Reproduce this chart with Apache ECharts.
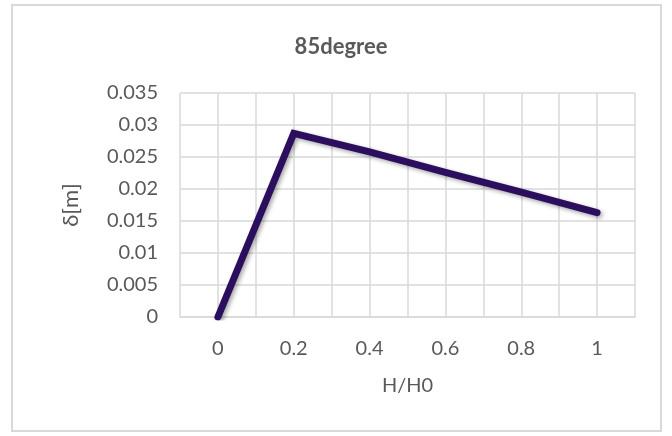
<!DOCTYPE html>
<html>
<head>
<meta charset="utf-8">
<script src="https://cdn.jsdelivr.net/npm/echarts@6/dist/echarts.min.js"></script>
<style>
  html, body { margin: 0; padding: 0; background: #fff; }
  #chart { width: 672px; height: 436px; }
</style>
</head>
<body>
<div id="chart"></div>
<script>
// Relative height H/H0 and the measured displacement δ in metres
const xValues = [0, 0.2, 0.4, 0.6, 0.8, 1];
const deltaValues = [0, 0.0287, 0.0258, 0.0226, 0.0195, 0.0163];

const chartTitle = '85degree';
const xName = 'H/H0';
const yName = 'δ[m]';

const seriesData = xValues.map((x, i) => [x, deltaValues[i]]);

const textColor = '#595959';
const gridColor = '#d9d9d9';
const fontFamily = 'Lato, "Open Sans", sans-serif';

const chart = echarts.init(document.getElementById('chart'), null, { renderer: 'canvas' });
chart.setOption({
  animation: false,
  backgroundColor: '#ffffff',
  graphic: [{
    type: 'rect',
    shape: { x: 12, y: 5, width: 649, height: 426 },
    style: { fill: 'none', stroke: gridColor, lineWidth: 2 },
    silent: true
  }],
  title: {
    text: chartTitle,
    left: 336,
    top: 31,
    textAlign: 'center',
    textStyle: { fontFamily, fontSize: 22, fontWeight: 'bold', color: textColor }
  },
  grid: { left: 180, right: 37, top: 93, bottom: 119 },
  xAxis: {
    type: 'value',
    min: -0.1,
    max: 1.1,
    interval: 0.1,
    name: xName,
    nameLocation: 'middle',
    nameGap: 59,
    nameTextStyle: { fontFamily, fontSize: 20, color: textColor },
    axisLine: { show: true, onZero: false, lineStyle: { color: gridColor, width: 1.5 } },
    axisTick: { show: false },
    splitLine: { show: true, lineStyle: { color: gridColor, width: 1.5 } },
    axisLabel: {
      margin: 22,
      fontFamily, fontSize: 20, color: textColor,
      showMinLabel: true, showMaxLabel: true,
      formatter: v => {
        const k = Math.round(v * 10);
        return (k >= 0 && k <= 10 && k % 2 === 0) ? String(k / 10) : '';
      }
    }
  },
  yAxis: {
    type: 'value',
    min: 0,
    max: 0.035,
    interval: 0.005,
    name: yName,
    nameLocation: 'middle',
    nameGap: 98,
    nameRotate: 90,
    nameTextStyle: { fontFamily, fontSize: 22, color: textColor },
    axisLine: { show: false },
    axisTick: { show: false },
    splitLine: { show: true, lineStyle: { color: gridColor, width: 1.5 } },
    axisLabel: {
      margin: 22,
      fontFamily, fontSize: 20, color: textColor,
      formatter: v => String(+v.toFixed(3))
    }
  },
  series: [{
    type: 'line',
    data: seriesData,
    symbol: 'none',
    lineStyle: {
      color: '#2b0f5e',
      width: 7,
      cap: 'round',
      join: 'miter',
      shadowColor: 'rgba(0,0,0,0.35)',
      shadowBlur: 4,
      shadowOffsetX: 2,
      shadowOffsetY: 2
    }
  }]
});
</script>
</body>
</html>
